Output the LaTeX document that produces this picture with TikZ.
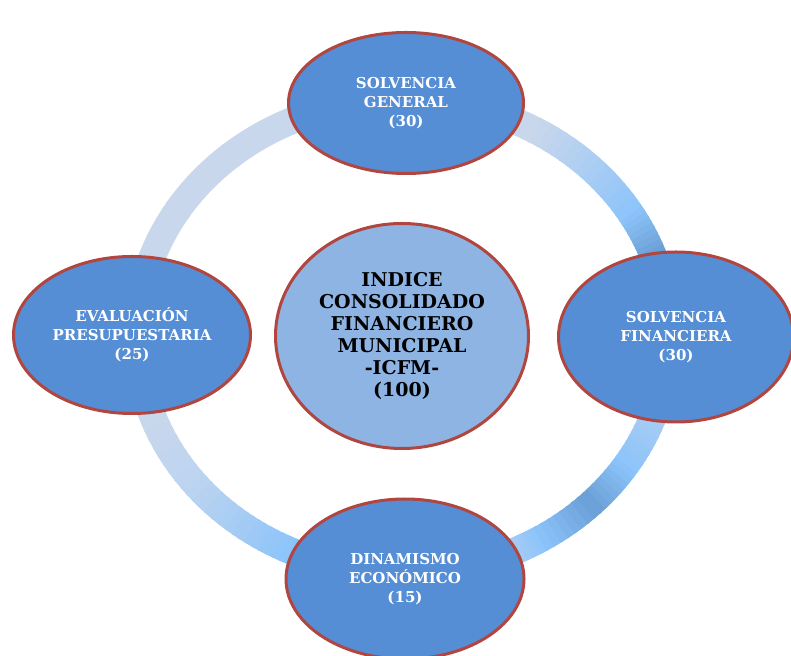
\documentclass[tikz,border=0pt]{standalone}
\usepackage{fontspec}
\setmainfont{DejaVu Serif}
\usetikzlibrary{shapes.geometric}

\definecolor{rimred}{HTML}{B0463F}
\definecolor{outblue}{HTML}{558ED5}
\definecolor{coreblue}{HTML}{8EB4E3}
\definecolor{ringpale}{HTML}{C8D7EC}
\definecolor{ringmist}{HTML}{BED4F0}
\definecolor{ringlight}{HTML}{A6CCF4}
\definecolor{ringbright}{HTML}{8CC4FA}
\definecolor{ringdark}{HTML}{6A9FD6}

\begin{document}
\begin{tikzpicture}[x=1pt,y=1pt,
  part/.style={ellipse,draw=rimred,line width=3pt,fill=outblue,text=white,inner sep=0pt,
    align=center,font=\bfseries\fontsize{15}{18.8}\selectfont},
  core/.style={ellipse,draw=rimred,line width=3pt,fill=coreblue,text=black,inner sep=0pt,
    align=center,font=\bfseries\fontsize{19}{22}\selectfont}]
\useasboundingbox (0,0) rectangle (791,655);

\coordinate (o) at (403,319);

% ring
\foreach \a/\b/\ca/\cb in {-90/-65/ringbright/ringlight,-65/-59/ringlight/ringbright,
  -59/-45/ringbright/ringdark,-45/-33/ringdark/ringbright,-33/-21/ringbright/ringlight,
  -21/-10/ringlight/ringlight,-10/10/ringlight/ringdark,10/20/ringdark/ringdark,
  20/31/ringdark/ringbright,31/43/ringbright/ringlight,43/60/ringlight/ringpale,
  60/200/ringpale/ringpale,200/217/ringpale/ringmist,217/232/ringmist/ringlight,
  232/245/ringlight/ringbright,245/270/ringbright/ringbright}{
  \foreach \t in {0,...,7}{
    \pgfmathsetmacro\s{\a+(\b-\a)*\t/8}
    \pgfmathsetmacro\e{\a+(\b-\a)*(\t+1)/8+0.6}
    \pgfmathtruncatemacro\p{100*(\t+0.5)/8}
    \draw[line width=27pt,\cb!\p!\ca] ([shift={(\s:266pt and 237pt)}]o)
      arc[start angle=\s,end angle=\e,x radius=266pt,y radius=237pt];
  }
}

\node[part,minimum width=235pt,minimum height=141pt] (gen) at (406,552)
  {SOLVENCIA\\GENERAL\\(30)};
\node[part,minimum width=235pt,minimum height=170pt] (fin) at (676,318)
  {SOLVENCIA\\FINANCIERA\\(30)};
\node[part,minimum width=237pt,minimum height=157pt] (eval) at (132,320)
  {EVALUACIÓN\\PRESUPUESTARIA\\(25)};
\node[part,minimum width=238pt,minimum height=160pt] (din) at (405,76)
  {DINAMISMO\\ECONÓMICO\\(15)};

\node[core,minimum width=253pt,minimum height=225pt] (icfm) at (402,319)
  {INDICE\\CONSOLIDADO\\FINANCIERO\\MUNICIPAL\\-ICFM-\\(100)};

\end{tikzpicture}
\end{document}
